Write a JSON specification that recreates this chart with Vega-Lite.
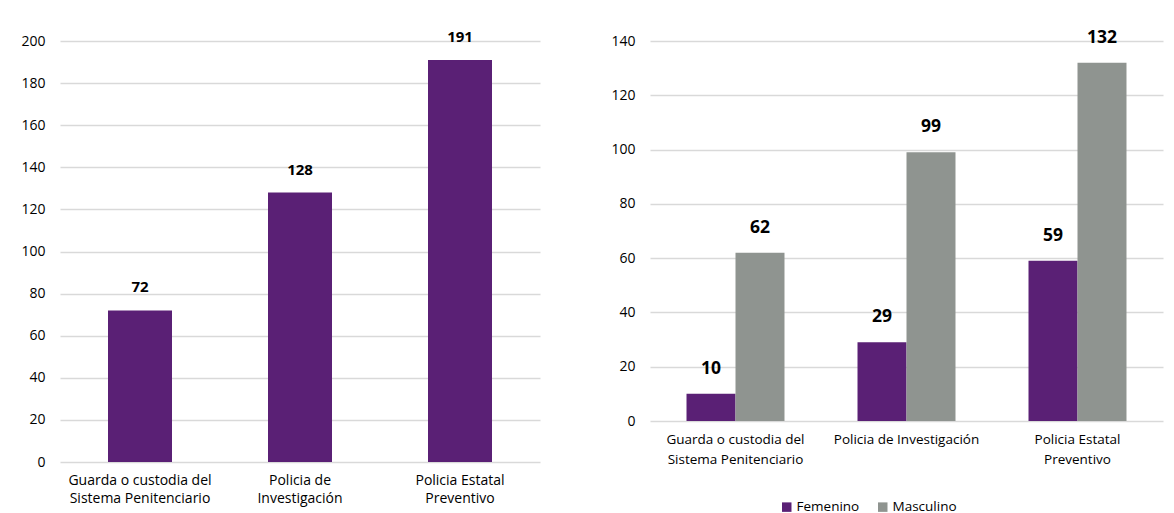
{
  "$schema": "https://vega.github.io/schema/vega-lite/v6.json",
  "padding": {"left": 20, "top": 28, "right": 5, "bottom": 0},
  "spacing": 70,
  "config": {
    "font": "Open Sans",
    "view": {"stroke": null},
    "axis": {
      "labelColor": "#000000",
      "labelFont": "Open Sans",
      "gridColor": "#D9D9D9",
      "gridWidth": 1.5,
      "ticks": false,
      "title": null
    }
  },
  "hconcat": [
    {
      "width": 480,
      "height": 421,
      "data": {
        "values": [
          {"cat": "Guarda o custodia del Sistema Penitenciario", "total": 72},
          {"cat": "Policia de Investigación", "total": 128},
          {"cat": "Policia Estatal Preventivo", "total": 191}
        ]
      },
      "encoding": {
        "x": {
          "field": "cat",
          "type": "nominal",
          "sort": null,
          "scale": {"paddingInner": 0.6, "paddingOuter": 0.3},
          "axis": {
            "labelAngle": 0,
            "labelFontSize": 14,
            "labelPadding": 11,
            "labelLineHeight": 18,
            "labelBaseline": "top",
            "domain": false,
            "labelExpr": "datum.value == 'Guarda o custodia del Sistema Penitenciario' ? ['Guarda o custodia del', 'Sistema Penitenciario'] : datum.value == 'Policia de Investigación' ? ['Policia de', 'Investigación'] : ['Policia Estatal', 'Preventivo']"
          }
        },
        "y": {
          "field": "total",
          "type": "quantitative",
          "scale": {"domain": [0, 200]},
          "axis": {
            "values": [0, 20, 40, 60, 80, 100, 120, 140, 160, 180, 200],
            "labelFontSize": 14,
            "labelPadding": 15,
            "domain": false
          }
        }
      },
      "layer": [
        {"mark": {"type": "bar", "color": "#5A2075"}},
        {
          "mark": {"type": "text", "dy": -23, "fontWeight": "bold", "fontSize": 15, "color": "#000000"},
          "encoding": {"text": {"field": "total", "type": "quantitative"}}
        }
      ]
    },
    {
      "width": 513,
      "height": 380,
      "data": {
        "values": [
          {"cat": "Guarda o custodia del Sistema Penitenciario", "sexo": "Femenino", "n": 10},
          {"cat": "Guarda o custodia del Sistema Penitenciario", "sexo": "Masculino", "n": 62},
          {"cat": "Policia de Investigación", "sexo": "Femenino", "n": 29},
          {"cat": "Policia de Investigación", "sexo": "Masculino", "n": 99},
          {"cat": "Policia Estatal Preventivo", "sexo": "Femenino", "n": 59},
          {"cat": "Policia Estatal Preventivo", "sexo": "Masculino", "n": 132}
        ]
      },
      "encoding": {
        "x": {
          "field": "cat",
          "type": "nominal",
          "sort": null,
          "scale": {"paddingInner": 0.427, "paddingOuter": 0.2135},
          "axis": {
            "labelAngle": 0,
            "labelFontSize": 13.5,
            "labelPadding": 11,
            "labelLineHeight": 20,
            "labelBaseline": "top",
            "domain": false,
            "labelExpr": "datum.value == 'Guarda o custodia del Sistema Penitenciario' ? ['Guarda o custodia del', 'Sistema Penitenciario'] : datum.value == 'Policia de Investigación' ? ['Policia de Investigación'] : ['Policia Estatal', 'Preventivo']"
          }
        },
        "xOffset": {
          "field": "sexo",
          "type": "nominal",
          "scale": {"paddingInner": 0, "paddingOuter": 0}
        },
        "y": {
          "field": "n",
          "type": "quantitative",
          "scale": {"domain": [0, 140]},
          "axis": {
            "values": [0, 20, 40, 60, 80, 100, 120, 140],
            "labelFontSize": 14,
            "labelPadding": 15,
            "domain": false
          }
        }
      },
      "layer": [
        {
          "mark": {"type": "bar"},
          "encoding": {
            "color": {
              "field": "sexo",
              "type": "nominal",
              "scale": {"domain": ["Femenino", "Masculino"], "range": ["#5A2075", "#8F9490"]},
              "legend": {
                "title": null,
                "orient": "none",
                "direction": "horizontal",
                "legendX": 720,
                "legendY": 459,
                "symbolType": "square",
                "symbolSize": 90,
                "symbolStrokeWidth": 0,
                "symbolOpacity": 1,
                "labelFontSize": 13.5,
                "labelColor": "#000000",
                "labelOffset": 3,
                "columnPadding": 16
              }
            }
          }
        },
        {
          "mark": {"type": "text", "dy": -25, "fontWeight": "bold", "fontSize": 17.5, "color": "#000000"},
          "encoding": {"text": {"field": "n", "type": "quantitative"}}
        }
      ]
    }
  ]
}
